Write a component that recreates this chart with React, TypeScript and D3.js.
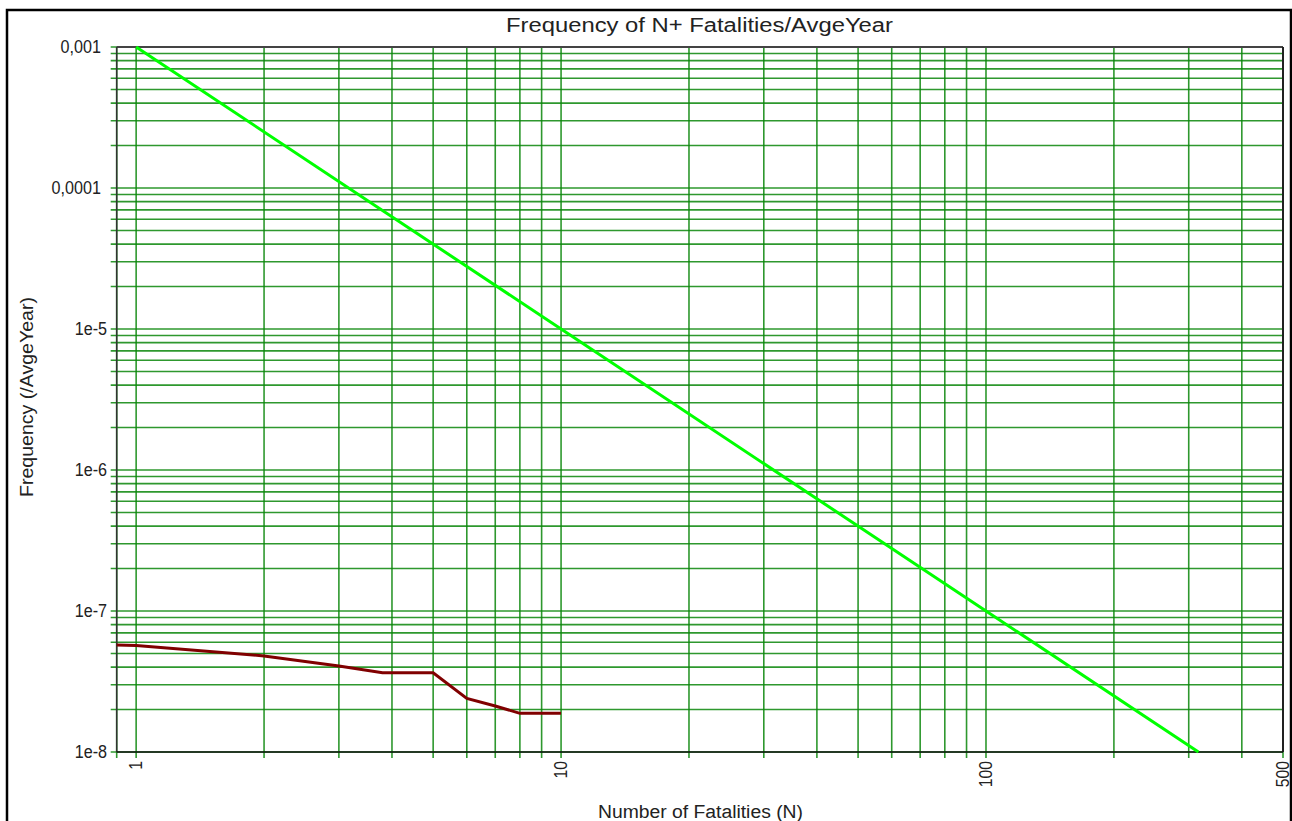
import React from "react";
import * as d3 from "d3";

// ---- data ----
const caseN = [0.9, 1, 2, 3, 3.8, 5, 6, 7, 8, 10];
const caseFreq = [5.75e-8, 5.7e-8, 4.8e-8, 4.07e-8, 3.65e-8, 3.65e-8, 2.4e-8, 2.12e-8, 1.88e-8, 1.88e-8];

const criterionN = [1, 10, 100, 316.2];
const criterionFreq = [1e-3, 1e-5, 1e-7, 1e-8];

const xTickValues = [1, 10, 100, 500];
const xTickLabels = ["1", "10", "100", "500"];
const yTickValues = [1e-8, 1e-7, 1e-6, 1e-5, 1e-4, 1e-3];
const yTickLabels = ["1e-8", "1e-7", "1e-6", "1e-5", "0,0001", "0,001"];

const titleText = "Frequency of N+ Fatalities/AvgeYear";
const xAxisTitle = "Number of Fatalities (N)";
const yAxisTitle = "Frequency (/AvgeYear)";

const W = 1292;
const H = 821;
const L = 116.7, R = 1283, T = 47, B = 752;

export default function App() {
  const x = d3.scaleLog().domain([0.9, 500]).range([L, R]);
  const y = d3.scaleLog().domain([1e-8, 1e-3]).range([B, T]);
  const line = d3
    .line<[number, number]>()
    .x((d) => x(d[0]))
    .y((d) => y(d[1]));

  const casePts = caseN.map((n, i) => [n, caseFreq[i]] as [number, number]);
  const critPts = criterionN.map((n, i) => [n, criterionFreq[i]] as [number, number]);

  const xGrid = x.ticks();
  const yGrid = y.ticks();
  const font = "'Liberation Sans', Arial, sans-serif";
  const gridColor = "#0a870a";

  return (
    <svg
      width={W}
      height={H}
      style={{ position: "absolute", left: 0, top: 0, background: "#fff" }}
      fontFamily={font}
    >
      <rect x={7} y={10} width={1284} height={830} fill="#fff" stroke="#000" strokeWidth={2.5} />
      {/* grid */}
      {yGrid.map((v, i) => (
        <line key={"gy" + i} x1={L - 6} x2={R} y1={y(v)} y2={y(v)} stroke={gridColor} strokeWidth={1.6} opacity={0.85} />
      ))}
      {xGrid.map((v, i) => (
        <line key={"gx" + i} x1={x(v)} x2={x(v)} y1={T} y2={B + 6} stroke={gridColor} strokeWidth={1.6} opacity={0.85} />
      ))}
      {/* frame */}
      <line x1={L} x2={R} y1={T} y2={T} stroke="#444" strokeWidth={2} />
      <line x1={R} x2={R} y1={T} y2={B} stroke="#222" strokeWidth={2} />
      <line x1={L} x2={L} y1={T} y2={B} stroke="#333" strokeWidth={1.5} />
      <line x1={L} x2={R} y1={B} y2={B} stroke="#111" strokeWidth={1.5} />
      {/* series */}
      <path d={line(critPts) || ""} fill="none" stroke="#00ff00" strokeWidth={3} />
      <path d={line(casePts) || ""} fill="none" stroke="#800000" strokeWidth={3} />
      {/* y tick labels */}
      {yTickValues.map((v, i) => (
        <text
          key={"yl" + i}
          transform={`translate(${yTickLabels[i].includes(",") ? 101 : 107},${y(v)}) scale(0.85,1)`}
          dy="0.33em"
          textAnchor="end"
          fontSize={19}
          fill="#222"
        >
          {yTickLabels[i]}
        </text>
      ))}
      {/* x tick labels */}
      {xTickValues.map((v, i) => (
        <text
          key={"xl" + i}
          transform={`translate(${x(v)},761) rotate(-90) scale(0.85,1)`}
          dy="0.3em"
          textAnchor="end"
          fontSize={18.5}
          fill="#222"
        >
          {xTickLabels[i]}
        </text>
      ))}
      {/* titles */}
      <text x={506} y={32} fontSize={20} textLength={387} lengthAdjust="spacingAndGlyphs" fill="#222">
        {titleText}
      </text>
      <text x={598} y={818} fontSize={18} textLength={205} lengthAdjust="spacingAndGlyphs" fill="#222">
        {xAxisTitle}
      </text>
      <text
        transform="translate(33,497) rotate(-90)"
        fontSize={18}
        textLength={200}
        lengthAdjust="spacingAndGlyphs"
        fill="#222"
      >
        {yAxisTitle}
      </text>
    </svg>
  );
}
